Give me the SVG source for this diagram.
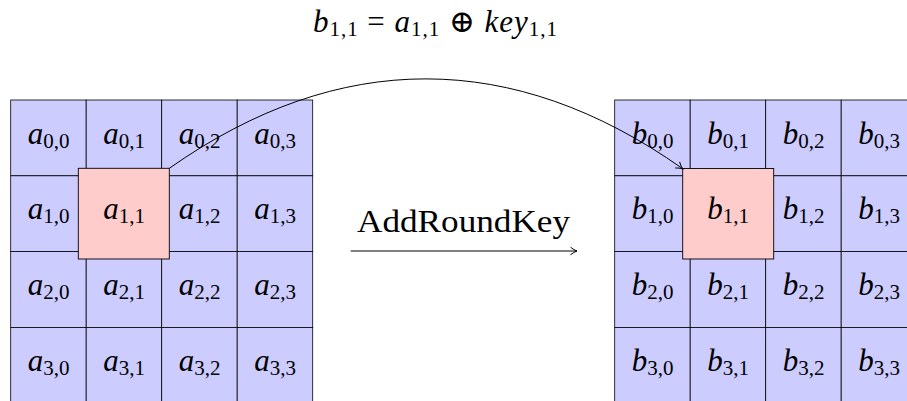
<svg xmlns="http://www.w3.org/2000/svg" width="907" height="401" viewBox="0 0 907 401">
<defs>
<style>
.cell{fill:#ccccff;stroke:#000;stroke-width:0.8}
.hl{fill:#ffcccc;stroke:#000;stroke-width:0.9}
.m{font-family:"Liberation Serif","DejaVu Serif",serif;font-style:italic;font-size:31px;fill:#000}
.s{font-style:normal;font-size:21px}
.lbl{font-family:"Liberation Serif","DejaVu Serif",serif;font-size:31px;fill:#000}
.conn{fill:none;stroke:#000;stroke-width:1}
</style>
<marker id="arr" markerWidth="12" markerHeight="12" refX="9" refY="5" orient="auto" markerUnits="userSpaceOnUse" viewBox="0 0 12 10">
<path d="M2.5,1.2 Q6,4 9,5 Q6,6 2.5,8.8" fill="none" stroke="#000" stroke-width="1"/>
</marker>
</defs>
<rect width="907" height="401" fill="#fff"/>

<g id="matrixA">
<g id="a00"><rect class="cell" x="10.7" y="100" width="75.5" height="75.8"/><text class="m" x="48.5" y="143.5" text-anchor="middle">a<tspan class="s" dy="4">0,0</tspan></text></g>
<g id="a01"><rect class="cell" x="86.2" y="100" width="75.5" height="75.8"/><text class="m" x="124" y="143.5" text-anchor="middle">a<tspan class="s" dy="4">0,1</tspan></text></g>
<g id="a02"><rect class="cell" x="161.7" y="100" width="75.5" height="75.8"/><text class="m" x="199.5" y="143.5" text-anchor="middle">a<tspan class="s" dy="4">0,2</tspan></text></g>
<g id="a03"><rect class="cell" x="237.2" y="100" width="75.5" height="75.8"/><text class="m" x="275" y="143.5" text-anchor="middle">a<tspan class="s" dy="4">0,3</tspan></text></g>
<g id="a10"><rect class="cell" x="10.7" y="175.8" width="75.5" height="75.8"/><text class="m" x="48.5" y="219.2" text-anchor="middle">a<tspan class="s" dy="4">1,0</tspan></text></g>
<g id="a11"><rect class="cell" x="86.2" y="175.8" width="75.5" height="75.8"/></g>
<g id="a12"><rect class="cell" x="161.7" y="175.8" width="75.5" height="75.8"/><text class="m" x="199.5" y="219.2" text-anchor="middle">a<tspan class="s" dy="4">1,2</tspan></text></g>
<g id="a13"><rect class="cell" x="237.2" y="175.8" width="75.5" height="75.8"/><text class="m" x="275" y="219.2" text-anchor="middle">a<tspan class="s" dy="4">1,3</tspan></text></g>
<g id="a20"><rect class="cell" x="10.7" y="251.6" width="75.5" height="75.8"/><text class="m" x="48.5" y="295" text-anchor="middle">a<tspan class="s" dy="4">2,0</tspan></text></g>
<g id="a21"><rect class="cell" x="86.2" y="251.6" width="75.5" height="75.8"/><text class="m" x="124" y="295" text-anchor="middle">a<tspan class="s" dy="4">2,1</tspan></text></g>
<g id="a22"><rect class="cell" x="161.7" y="251.6" width="75.5" height="75.8"/><text class="m" x="199.5" y="295" text-anchor="middle">a<tspan class="s" dy="4">2,2</tspan></text></g>
<g id="a23"><rect class="cell" x="237.2" y="251.6" width="75.5" height="75.8"/><text class="m" x="275" y="295" text-anchor="middle">a<tspan class="s" dy="4">2,3</tspan></text></g>
<g id="a30"><rect class="cell" x="10.7" y="327.4" width="75.5" height="75.8"/><text class="m" x="48.5" y="370.8" text-anchor="middle">a<tspan class="s" dy="4">3,0</tspan></text></g>
<g id="a31"><rect class="cell" x="86.2" y="327.4" width="75.5" height="75.8"/><text class="m" x="124" y="370.8" text-anchor="middle">a<tspan class="s" dy="4">3,1</tspan></text></g>
<g id="a32"><rect class="cell" x="161.7" y="327.4" width="75.5" height="75.8"/><text class="m" x="199.5" y="370.8" text-anchor="middle">a<tspan class="s" dy="4">3,2</tspan></text></g>
<g id="a33"><rect class="cell" x="237.2" y="327.4" width="75.5" height="75.8"/><text class="m" x="275" y="370.8" text-anchor="middle">a<tspan class="s" dy="4">3,3</tspan></text></g>
</g>
<g id="a11-highlight"><rect class="hl" x="78.3" y="168.3" width="91" height="90.7"/><text class="m" x="124" y="219.2" text-anchor="middle">a<tspan class="s" dy="4">1,1</tspan></text></g>

<g id="matrixB">
<g id="b00"><rect class="cell" x="614.7" y="100" width="75.5" height="75.8"/><text class="m" x="652.5" y="143.5" text-anchor="middle">b<tspan class="s" dy="4">0,0</tspan></text></g>
<g id="b01"><rect class="cell" x="690.2" y="100" width="75.5" height="75.8"/><text class="m" x="728" y="143.5" text-anchor="middle">b<tspan class="s" dy="4">0,1</tspan></text></g>
<g id="b02"><rect class="cell" x="765.7" y="100" width="75.5" height="75.8"/><text class="m" x="803.5" y="143.5" text-anchor="middle">b<tspan class="s" dy="4">0,2</tspan></text></g>
<g id="b03"><rect class="cell" x="841.2" y="100" width="75.5" height="75.8"/><text class="m" x="879" y="143.5" text-anchor="middle">b<tspan class="s" dy="4">0,3</tspan></text></g>
<g id="b10"><rect class="cell" x="614.7" y="175.8" width="75.5" height="75.8"/><text class="m" x="652.5" y="219.2" text-anchor="middle">b<tspan class="s" dy="4">1,0</tspan></text></g>
<g id="b11"><rect class="cell" x="690.2" y="175.8" width="75.5" height="75.8"/></g>
<g id="b12"><rect class="cell" x="765.7" y="175.8" width="75.5" height="75.8"/><text class="m" x="803.5" y="219.2" text-anchor="middle">b<tspan class="s" dy="4">1,2</tspan></text></g>
<g id="b13"><rect class="cell" x="841.2" y="175.8" width="75.5" height="75.8"/><text class="m" x="879" y="219.2" text-anchor="middle">b<tspan class="s" dy="4">1,3</tspan></text></g>
<g id="b20"><rect class="cell" x="614.7" y="251.6" width="75.5" height="75.8"/><text class="m" x="652.5" y="295" text-anchor="middle">b<tspan class="s" dy="4">2,0</tspan></text></g>
<g id="b21"><rect class="cell" x="690.2" y="251.6" width="75.5" height="75.8"/><text class="m" x="728" y="295" text-anchor="middle">b<tspan class="s" dy="4">2,1</tspan></text></g>
<g id="b22"><rect class="cell" x="765.7" y="251.6" width="75.5" height="75.8"/><text class="m" x="803.5" y="295" text-anchor="middle">b<tspan class="s" dy="4">2,2</tspan></text></g>
<g id="b23"><rect class="cell" x="841.2" y="251.6" width="75.5" height="75.8"/><text class="m" x="879" y="295" text-anchor="middle">b<tspan class="s" dy="4">2,3</tspan></text></g>
<g id="b30"><rect class="cell" x="614.7" y="327.4" width="75.5" height="75.8"/><text class="m" x="652.5" y="370.8" text-anchor="middle">b<tspan class="s" dy="4">3,0</tspan></text></g>
<g id="b31"><rect class="cell" x="690.2" y="327.4" width="75.5" height="75.8"/><text class="m" x="728" y="370.8" text-anchor="middle">b<tspan class="s" dy="4">3,1</tspan></text></g>
<g id="b32"><rect class="cell" x="765.7" y="327.4" width="75.5" height="75.8"/><text class="m" x="803.5" y="370.8" text-anchor="middle">b<tspan class="s" dy="4">3,2</tspan></text></g>
<g id="b33"><rect class="cell" x="841.2" y="327.4" width="75.5" height="75.8"/><text class="m" x="879" y="370.8" text-anchor="middle">b<tspan class="s" dy="4">3,3</tspan></text></g>
</g>
<g id="b11-highlight"><rect class="hl" x="682.7" y="168.5" width="91" height="90.5"/><text class="m" x="728" y="219.2" text-anchor="middle">b<tspan class="s" dy="4">1,1</tspan></text></g>

<g id="title"><text class="m" x="435" y="32" text-anchor="middle" textLength="244">b<tspan class="s" dy="4">1,1</tspan><tspan dy="-4" font-style="normal"> = </tspan>a<tspan class="s" dy="4">1,1</tspan><tspan dy="-4" font-style="normal"> ⊕ </tspan>key<tspan class="s" dy="4">1,1</tspan></text></g>

<g id="op-label"><text class="lbl" x="463.5" y="231.5" text-anchor="middle" textLength="213" lengthAdjust="spacingAndGlyphs">AddRoundKey</text></g>

<g id="connectors">
<path class="conn" d="M350.7,251 L577,251" marker-end="url(#arr)"/>
<path class="conn" d="M169.3,168.3 C339,49 513,49 682.7,168.7" marker-end="url(#arr)"/>
</g>
</svg>
